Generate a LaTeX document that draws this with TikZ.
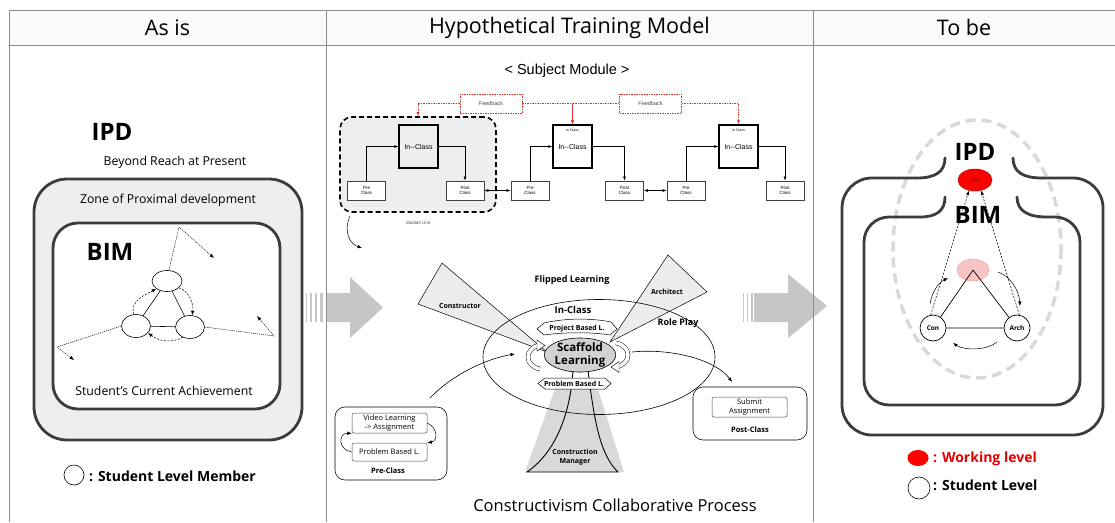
\documentclass[tikz,border=0pt]{standalone}
\usepackage{fontspec}
\setmainfont{Open Sans}
\newfontfamily\arialfont{Liberation Sans}
\usetikzlibrary{shapes.geometric,arrows.meta}
\newcommand\fsz[2]{\fontsize{#1}{#2}\selectfont}
\definecolor{framegray}{HTML}{3C3C3C}
\definecolor{zonegray}{HTML}{EEEEEE}
\definecolor{arrowgray}{HTML}{C6C6C6}
\definecolor{rulegray}{HTML}{8C8C8C}
\definecolor{fbred}{HTML}{E03030}
\definecolor{pinkfill}{HTML}{F6C4C4}
\begin{document}
\begin{tikzpicture}[x=1pt,y=-1pt,
  head/.style={font=\fsz{21.5}{23}},
  bigword/.style={font=\bfseries\fsz{24}{26},inner sep=0pt},
  note/.style={font=\fsz{12.3}{14},inner sep=0pt},
  legend/.style={font=\bfseries\fsz{14}{16},inner sep=0pt,anchor=west},
  tag/.style={font=\bfseries\fsz{7}{8.5},inner sep=0pt,align=center},
  midtag/.style={font=\bfseries\fsz{9}{11},inner sep=0pt},
  frame/.style={draw=framegray,line width=2.8pt,line cap=round},
  member/.style={draw,ellipse,fill=white,line width=0.6pt,inner sep=0pt},
  fine/.style={line width=0.45pt,dash pattern=on 1.2pt off 0.9pt},
  curl/.style={line width=0.55pt,dash pattern=on 2pt off 1.5pt},
  tipS/.style={-{Latex[length=4.5pt,width=3.5pt]}},
  modbox/.style={draw=black!75,fill=white,line width=0.7pt,minimum width=38pt,minimum height=19pt,inner sep=0pt,align=center,font=\arialfont\fsz{4.5}{5}},
  classbox/.style={draw=black,line width=1.4pt,minimum width=39pt,minimum height=43pt,inner sep=0pt,font=\arialfont\fsz{7}{8}},
  fbbox/.style={draw=fbred,dash pattern=on 1.5pt off 1pt,line width=0.6pt,fill=white,minimum width=62pt,minimum height=19pt,inner sep=0pt,font=\arialfont\fsz{5.5}{6},text=black!70},
  fbline/.style={draw=fbred,line width=0.6pt,dash pattern=on 1.5pt off 1pt,-{Latex[length=4pt,width=3pt]}},
  link/.style={line width=0.6pt,-{Latex[length=4pt,width=3pt]}},
  link2/.style={line width=0.6pt,{Latex[length=4pt,width=3pt]}-{Latex[length=4pt,width=3pt]}},
  cloudbox/.style={draw,line width=0.55pt,rounded corners=10pt},
  innerbox/.style={draw=black!70,line width=0.5pt,rounded corners=2pt,fill=white,align=center,inner sep=0pt,font=\fsz{7.5}{9}},
  banner/.style={draw,line width=0.5pt,fill=white},
  wedge/.style={draw,line width=0.5pt,fill=gray!15},
  crescent/.style={draw=black,double=white,double distance=3.5pt,line width=0.45pt},
  person/.style={draw,circle,fill=white,line width=0.7pt,minimum size=26pt,inner sep=0pt,font=\bfseries\fsz{6.5}{7}}
]
\useasboundingbox (0,0) rectangle (1115,522);

% ---------- header band ----------
\fill[gray!4] (9,10) rectangle (1115,45);
\node[head] (hAsIs) at (167.5,27.5) {As is};
\node[head] (hModel) at (569.5,27.5) {Hypothetical Training Model};
\node[head] (hToBe) at (964,27.5) {To be};

% ---------- big transition arrows ----------
\fill[arrowgray] (326,293) -- (350,293) -- (350,277) -- (383,307.5) -- (350,338) -- (350,322) -- (326,322) -- cycle;
\foreach \x/\w in {306/1.3,310/1.8,314.5/2.4,319.5/3.2}
  \fill[arrowgray] (\x,293) rectangle ({\x+\w},322);
\fill[arrowgray] (757,293) -- (788,293) -- (788,274) -- (827,306) -- (788,338) -- (788,322) -- (757,322) -- cycle;
\foreach \x/\w in {743/1.3,746.5/1.8,750.5/2.4,754/3}
  \fill[arrowgray] (\x,293) rectangle ({\x+\w},322);

% ================= AS IS =================
\node[bigword] (ipdL) at (112,132) {IPD};
\node[note] (beyond) at (175,162) {Beyond Reach at Present};
\draw[frame,fill=zonegray,rounded corners=33pt] (34,179) rectangle (302,440);
\node[note] (zpd) at (168,200) {Zone of Proximal development};
\draw[frame,fill=white,rounded corners=25pt] (53,223) rectangle (280,409);
\node[bigword] (bimL) at (110,252) {BIM};
\node[note] (sca) at (164,391) {Student's Current Achievement};

\node[member,minimum width=30pt,minimum height=21pt] (mt) at (167,281) {};
\node[member,minimum width=29pt,minimum height=23pt] (ml) at (136,326) {};
\node[member,minimum width=29pt,minimum height=23pt] (mr) at (190,327) {};
\draw[line width=0.6pt] (mt) -- (ml) (mt) -- (mr) (ml) -- (mr);
\draw[curl,tipS] (ml.100) .. controls +(-5,-14) and +(-8,5) .. (mt.215);
\draw[curl,tipS] (mt.330) .. controls +(9,2) and +(2,-12) .. (mr.80);
\draw[curl,tipS] (mr.235) .. controls (172,343) and (160,342) .. (ml.330);

\coordinate (s1a) at (179,227); \coordinate (s1b) at (214,258);
\coordinate (s2a) at (57,347);  \coordinate (s2b) at (74,360);
\coordinate (s3a) at (274,336); \coordinate (s3b) at (257,316);
\draw[fine,tipS] (mt.80) -- (s1a) -- (s1b);
\draw[fine,tipS] (ml.west) -- (s2a) -- (s2b);
\draw[fine,tipS] (mr.east) -- (s3a) -- (s3b);

\node[draw,circle,minimum size=20pt,line width=0.6pt,inner sep=0pt] (lgA) at (74,475) {};
\node[legend] (lgAt) at (89,476) {: Student Level Member};

% ================= HYPOTHETICAL TRAINING MODEL =================
\node[font=\arialfont\fsz{14.5}{16}] (subj) at (567,71) {< Subject Module >};

% module unit
\node[draw,fill=zonegray,line width=1.6pt,dash pattern=on 5pt off 3pt,rounded corners=12pt,minimum width=156pt,minimum height=95pt] (mu) at (418,164.5) {};
\node[font=\arialfont\fsz{4.5}{5},text=black!70] (mulab) at (418,223) {Module Unit};

\node[classbox,fill=zonegray] (ic1) at (418.5,146.5) {In--Class};
\node[classbox,fill=white] (ic2) at (572.5,146.5) {In--Class};
\node[classbox,fill=white] (ic3) at (738.5,146.5) {In--Class};
\node[font=\arialfont\fsz{3.5}{4}] (ic2t) at (572.5,130) {In Class};
\node[font=\arialfont\fsz{3.5}{4}] (ic3t) at (738.5,130) {In Class};

\node[modbox] (pre1) at (366.5,190.5) {Pre\\Class};
\node[modbox] (post1) at (465,190.5) {Post\\Class};
\node[modbox] (pre2) at (530,190.5) {Pre\\Class};
\node[modbox] (post2) at (624.5,190.5) {Post\\Class};
\node[modbox] (pre3) at (686,190.5) {Pre\\Class};
\node[modbox] (post3) at (785,190.5) {Post\\Class};

\draw[link] (pre1.north) |- (ic1.west);
\draw[link] (ic1.east) -| (post1.north);
\draw[link2] (post1) -- (pre2);
\draw[link] (pre2.north) |- (ic2.west);
\draw[link] (ic2.east) -| (post2.north);
\draw[link2] (post2) -- (pre3);
\draw[link] (pre3.north) |- (ic3.west);
\draw[link] (ic3.east) -| (post3.north);

\node[fbbox] (fb1) at (491,103.5) {Feedback};
\node[fbbox] (fb2) at (650.5,103.5) {Feedback};
\draw[fbline] (fb1.west) -| (mu.north);
\draw[fbline] (fb1.east) -| (ic2.north);
\draw[fbline] (fb2.west) -| (ic2.north);
\draw[fbline] (fb2.east) -| (ic3.north);

\coordinate (mu1) at (350,216); \coordinate (mu2) at (362,248);
\draw[line width=0.5pt,tipS] (mu1) .. controls (343,232) and (350,244) .. (mu2);

% construction manager cone
\fill[gray!30] (556,386) -- (597,386) -- (624,472) -- (525,472) -- cycle;
% role wedges
\draw[wedge] (547,352) -- (442,263) -- (418,304) -- cycle;
\draw[wedge] (610,342) -- (668,255) -- (707,292) -- cycle;
% collaborative field
\node[draw,ellipse,line width=0.6pt,minimum width=232pt,minimum height=115pt] (field) at (599,357) {};
\coordinate (cmA) at (573,370); \coordinate (cmB) at (588,370);
\coordinate (cmC) at (527,472); \coordinate (cmD) at (618,472);
\draw[line width=0.9pt] (cmA) .. controls (570,420) and (552,455) .. (cmC) -- (cmD)
  .. controls (600,455) and (594,420) .. (cmB);

\draw[banner] (537,329) -- (544,323) .. controls (565,318) and (592,318) .. (611,322) -- (617,329) -- (610,335) .. controls (592,332) and (565,332) .. (544,335) -- cycle;
\draw[banner] (538,383.5) -- (545,378) -- (605,378) -- (611,383.5) -- (605,389) -- (545,389) -- cycle;
\node[tag] (pbl1) at (577,328.5) {Project Based L.};
\node[tag] (pbl2) at (574,383.5) {Problem Based L.};

\node[draw,ellipse,fill=gray!35,line width=0.6pt,minimum width=64pt,minimum height=33pt,inner sep=0pt,align=center,font=\bfseries\fsz{11.5}{12.5}] (scaf) at (580,355) {Scaffold\\Learning};

\coordinate (cl1) at (540,345); \coordinate (cl2) at (540,369);
\draw[crescent] (cl1) .. controls (524,348) and (524,366) .. (cl2);
\draw[line width=0.45pt,fill=white] (537,340) -- (545,345.5) -- (537,351) -- cycle;
\coordinate (cr1) at (616,343); \coordinate (cr2) at (616,367);
\draw[crescent] (cr1) .. controls (632,346) and (632,364) .. (cr2);
\draw[line width=0.45pt,fill=white] (619,361.5) -- (611,367) -- (619,372.5) -- cycle;

\node[midtag] (flip) at (572,280) {Flipped Learning};
\node[font=\bfseries\fsz{9.5}{11},inner sep=0pt] (incl) at (573,310) {In-Class};
\node[tag] (constr) at (460,306) {Constructor};
\node[tag] (archi) at (667,292) {Architect};
\node[midtag] (role) at (678,323) {Role Play};
\node[tag] (cman) at (575,457) {Construction\\Manager};

% pre-class and post-class panels
\node[cloudbox,minimum width=112pt,minimum height=73pt] (prec) at (391,443.5) {};
\node[innerbox,minimum width=75pt,minimum height=20pt] (vl) at (389.5,423) {Video Learning\\-> Assignment};
\node[innerbox,minimum width=75pt,minimum height=18pt] (pbl) at (389.5,452) {Problem Based L.};
\node[font=\bfseries\fsz{7.5}{9},inner sep=0pt] (prelab) at (388,470.5) {Pre-Class};
\draw[line width=0.5pt,tipS] (pbl.west) .. controls (338,450) and (338,433) .. (vl.south west);
\draw[line width=0.5pt,tipS] (vl.east) .. controls (438,428) and (438,441) .. (pbl.north east);

\node[cloudbox,minimum width=114pt,minimum height=53pt] (postc) at (750,413.5) {};
\node[innerbox,minimum width=75pt,minimum height=20pt] (sub) at (749.5,407) {Submit\\Assignment};
\node[font=\bfseries\fsz{7.5}{9},inner sep=0pt] (postlab) at (750,430) {Post-Class};

\coordinate (pa) at (430,398); \coordinate (pb) at (515,354);
\draw[line width=0.6pt,tipS] (pa) .. controls (455,372) and (490,358) .. (pb);
\coordinate (qa) at (632,352); \coordinate (qb) at (732,382);
\draw[line width=0.6pt,tipS] (qa) .. controls (672,348) and (716,360) .. (qb);

\node[font=\fsz{16.5}{18},inner sep=0pt] (ccp) at (615,505) {Constructivism Collaborative Process};

% ================= TO BE =================
\draw[gray!30,line width=3.5pt,dash pattern=on 10pt off 6pt] (977,249) ellipse [x radius=84, y radius=129];
% IPD boundary: open-topped rounded frame with two hooks
\draw[frame,rounded corners=30pt] (917,178) -- (842,178) -- (842,435) -- (1103,435) -- (1103,178) -- (1042,178);
\draw[frame] (945,158) .. controls (945,172) and (935,178) .. (917,178);
\draw[frame] (1013,158) .. controls (1013,172) and (1023,178) .. (1042,178);
% BIM boundary
\draw[frame,rounded corners=25pt] (920,217) -- (864,217) -- (864,405) -- (1080,405) -- (1080,217) -- (1047,217);
\draw[frame] (945,197) .. controls (945,211) and (936,217) .. (920,217);
\draw[frame] (1017,197) .. controls (1017,211) and (1028,217) .. (1047,217);

\node[bigword] (ipdR) at (975,152) {IPD};
\node[bigword] (bimR) at (978,215) {BIM};
\node[draw=red!70!black,fill=red,ellipse,minimum width=34pt,minimum height=22pt,inner sep=0pt,font=\fsz{5}{6},text=red!35!black,line width=0.5pt] (cm) at (975,180) {CM};
\node[draw=red!60,fill=pinkfill,ellipse,densely dotted,minimum width=32pt,minimum height=22pt,line width=0.6pt] (pk) at (973,270) {};
\node[person] (con) at (933,328) {Con};
\node[person] (arch) at (1017,328) {Arch};
\draw[line width=0.7pt] (pk.center) -- (con) (pk.center) -- (arch) (con) -- (arch);
\draw[curl,tipS] (con.100) -- (cm.240);
\draw[curl,tipS] (arch.80) -- (cm.300);
\coordinate (ra) at (930,304); \coordinate (rb) at (948,278);
\draw[line width=0.5pt,tipS] (ra) .. controls (932,292) and (938,283) .. (rb);
\coordinate (rc) at (998,272); \coordinate (rd) at (1020,306);
\draw[line width=0.5pt,tipS] (rc) .. controls (1010,276) and (1019,290) .. (rd);
\coordinate (re) at (997,342); \coordinate (rf) at (953,343);
\draw[line width=0.5pt,tipS] (re) .. controls (988,350) and (965,351) .. (rf);

\node[fill=red,ellipse,minimum width=21pt,minimum height=16pt,inner sep=0pt] (lgR) at (918,458) {};
\node[legend,text=red!90!black] (lgRt) at (933,459) {: Working level};
\node[draw,circle,minimum size=22pt,line width=0.6pt,inner sep=0pt] (lgW) at (919,488) {};
\node[legend] (lgWt) at (933,485) {: Student Level};

% ---------- table rules ----------
\draw[rulegray,line width=0.8pt] (9,10) -- (1115,10) (9,45) -- (1115,45);
\draw[rulegray,line width=0.8pt] (9,10) -- (9,522) (326,10) -- (326,522) (813,10) -- (813,522);
\end{tikzpicture}
\end{document}
